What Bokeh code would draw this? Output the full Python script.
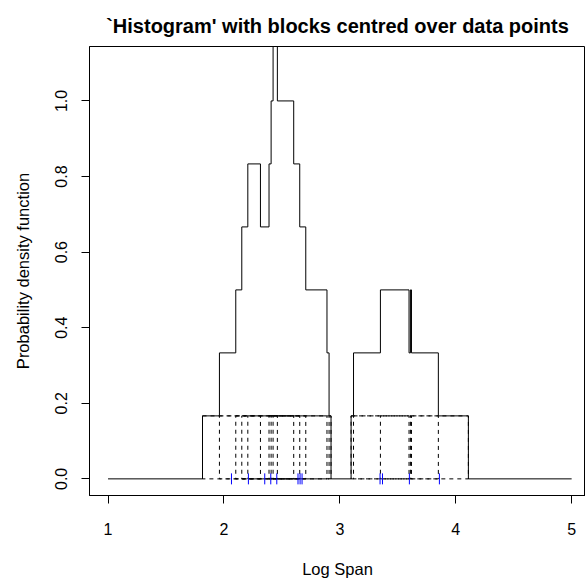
import numpy as np
from bokeh.plotting import figure
from bokeh.models import FixedTicker, Range1d, PrintfTickFormatter
from bokeh.embed import file_html
from bokeh.resources import INLINE

# ---- data ----
log_span = [2.065, 2.211, 2.352, 2.404, 2.456, 2.639, 2.657, 2.674,
            3.347, 3.368, 3.600, 3.859]
block_width = 0.5
grid_from, grid_to = 1.0, 5.0
x_ticks = [1, 2, 3, 4, 5]
y_ticks = [0.0, 0.2, 0.4, 0.6, 0.8, 1.0]

title = "`Histogram' with blocks centred over data points"
x_label = "Log Span"
y_label = "Probability density function"

# ---- derived: naive (block) density estimate ----
pts = np.array(log_span)
n = len(pts)
h = block_width
block_height = 1.0 / (n * h)
left = pts - h / 2
right = pts + h / 2

edges = np.unique(np.concatenate([left, right]))
xs = [grid_from]
ys = [0.0]
cur = 0.0
for e in edges:
    mid_after = e + 1e-9
    val = np.sum((left <= mid_after) & (right > mid_after)) * block_height
    xs += [e, e]
    ys += [cur, val]
    cur = val
xs.append(grid_to)
ys.append(cur)

FONT = "Liberation Sans"

p = figure(width=585, height=580, output_backend="svg", toolbar_location=None,
           x_range=Range1d(0.84, 0.84 + 496 / 115.9),
           y_range=Range1d(-0.044, 1.144),
           min_border_left=89, min_border_right=0, min_border_top=46,
           min_border_bottom=85)
p.title.text = title
p.title.align = "center"
p.title.offset = 2
p.title.standoff = 19
p.title.text_font = FONT
p.title.text_font_size = "20px"
p.title.text_font_style = "bold"
p.title.text_color = "black"

p.background_fill_color = "white"
p.border_fill_color = "white"
p.outline_line_color = "black"
p.outline_line_width = 1
p.xgrid.visible = False
p.ygrid.visible = False

# blocks (dashed rectangles)
p.quad(left=left, right=right, bottom=0, top=block_height,
       fill_color=None, line_color="black", line_dash="4 4", line_width=1)

# estimate outline
p.line(xs, ys, line_color="black", line_width=1)

# rug
p.scatter(pts, np.zeros(n), marker="dash", angle=np.pi / 2, size=11,
          line_color="blue", line_width=1)

for ax in (p.xaxis[0], p.yaxis[0]):
    ax.axis_line_color = "black"
    ax.major_tick_line_color = "black"
    ax.major_tick_out = 8
    ax.major_tick_in = 0
    ax.minor_tick_line_color = None
    ax.major_label_text_font = FONT
    ax.major_label_text_color = "black"
    ax.major_label_text_font_size = "16px"
    ax.axis_label_text_font = FONT
    ax.axis_label_text_font_size = "16.5px"
    ax.axis_label_text_font_style = "normal"
    ax.axis_label_text_color = "black"

p.xaxis.ticker = FixedTicker(ticks=x_ticks)
p.xaxis.formatter = PrintfTickFormatter(format="%d")
p.xaxis.axis_label = x_label
p.xaxis.major_label_standoff = 19
p.xaxis.axis_label_standoff = 22

p.yaxis.ticker = FixedTicker(ticks=y_ticks)
p.yaxis.formatter = PrintfTickFormatter(format="%.1f")
p.yaxis.axis_label = y_label
p.yaxis.major_label_orientation = "vertical"
p.yaxis.major_label_standoff = 14
p.yaxis.axis_label_standoff = 21

open("out.html", "w").write(file_html(p, INLINE))
